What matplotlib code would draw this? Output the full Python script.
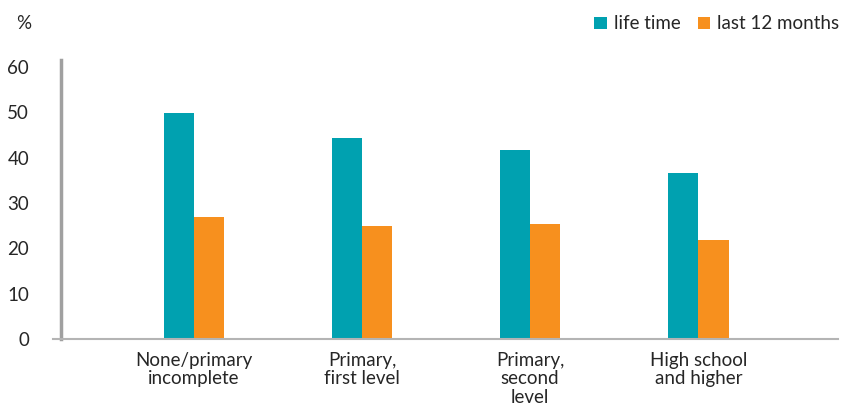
import numpy as np
import matplotlib.pyplot as plt

plt.rcParams['font.family'] = ['Lato', 'DejaVu Sans']

categories = ['None/primary\nincomplete', 'Primary,\nfirst level',
              'Primary,\nsecond\nlevel', 'High school\nand higher']
life_time = [49.8, 44.3, 41.7, 36.6]
last_12_months = [26.9, 24.9, 25.4, 21.8]

teal = '#00A1B0'
orange = '#F7901E'
text_col = '#262626'
fs = 13.5

fig = plt.figure(figsize=(8.42, 4.19), dpi=100)
ax = fig.add_axes([0.0724, 0.1909, 0.9228, 0.6659])

x = np.arange(len(categories))
w = 0.18
ax.bar(x - w / 2, life_time, w, color=teal, label='life time')
ax.bar(x + w / 2, last_12_months, w, color=orange, label='last 12 months')

ax.set_xlim(-0.79, 3.83)
ax.set_ylim(0, 61.5)
ax.set_yticks(range(0, 61, 10))
ax.set_xticks(x)
ax.set_xticklabels(categories, linespacing=1.12)
ax.tick_params(axis='both', length=0, labelsize=fs, colors=text_col)
ax.tick_params(axis='y', pad=23)
ax.tick_params(axis='x', pad=9)

for side in ['top', 'right', 'bottom']:
    ax.spines[side].set_visible(False)
ax.spines['left'].set_color('#A0A0A0')
ax.spines['left'].set_linewidth(2.5)
ax.spines['left'].set_bounds(0, 61.5)
ax.axhline(0, xmin=-0.0103, xmax=1, color='#B4B4B4', lw=1.5, clip_on=False, zorder=3)

fig.text(0.0285, 0.945, '%', fontsize=fs, color=text_col, ha='center', va='center')

fig.legend(loc='center right', bbox_to_anchor=(0.997, 0.943), ncol=2, frameon=False,
           fontsize=fs, handlelength=0.65, handleheight=0.65, handletextpad=0.4,
           columnspacing=0.9, labelcolor=text_col, borderaxespad=0, borderpad=0)

fig.savefig('out.png', dpi=100)
